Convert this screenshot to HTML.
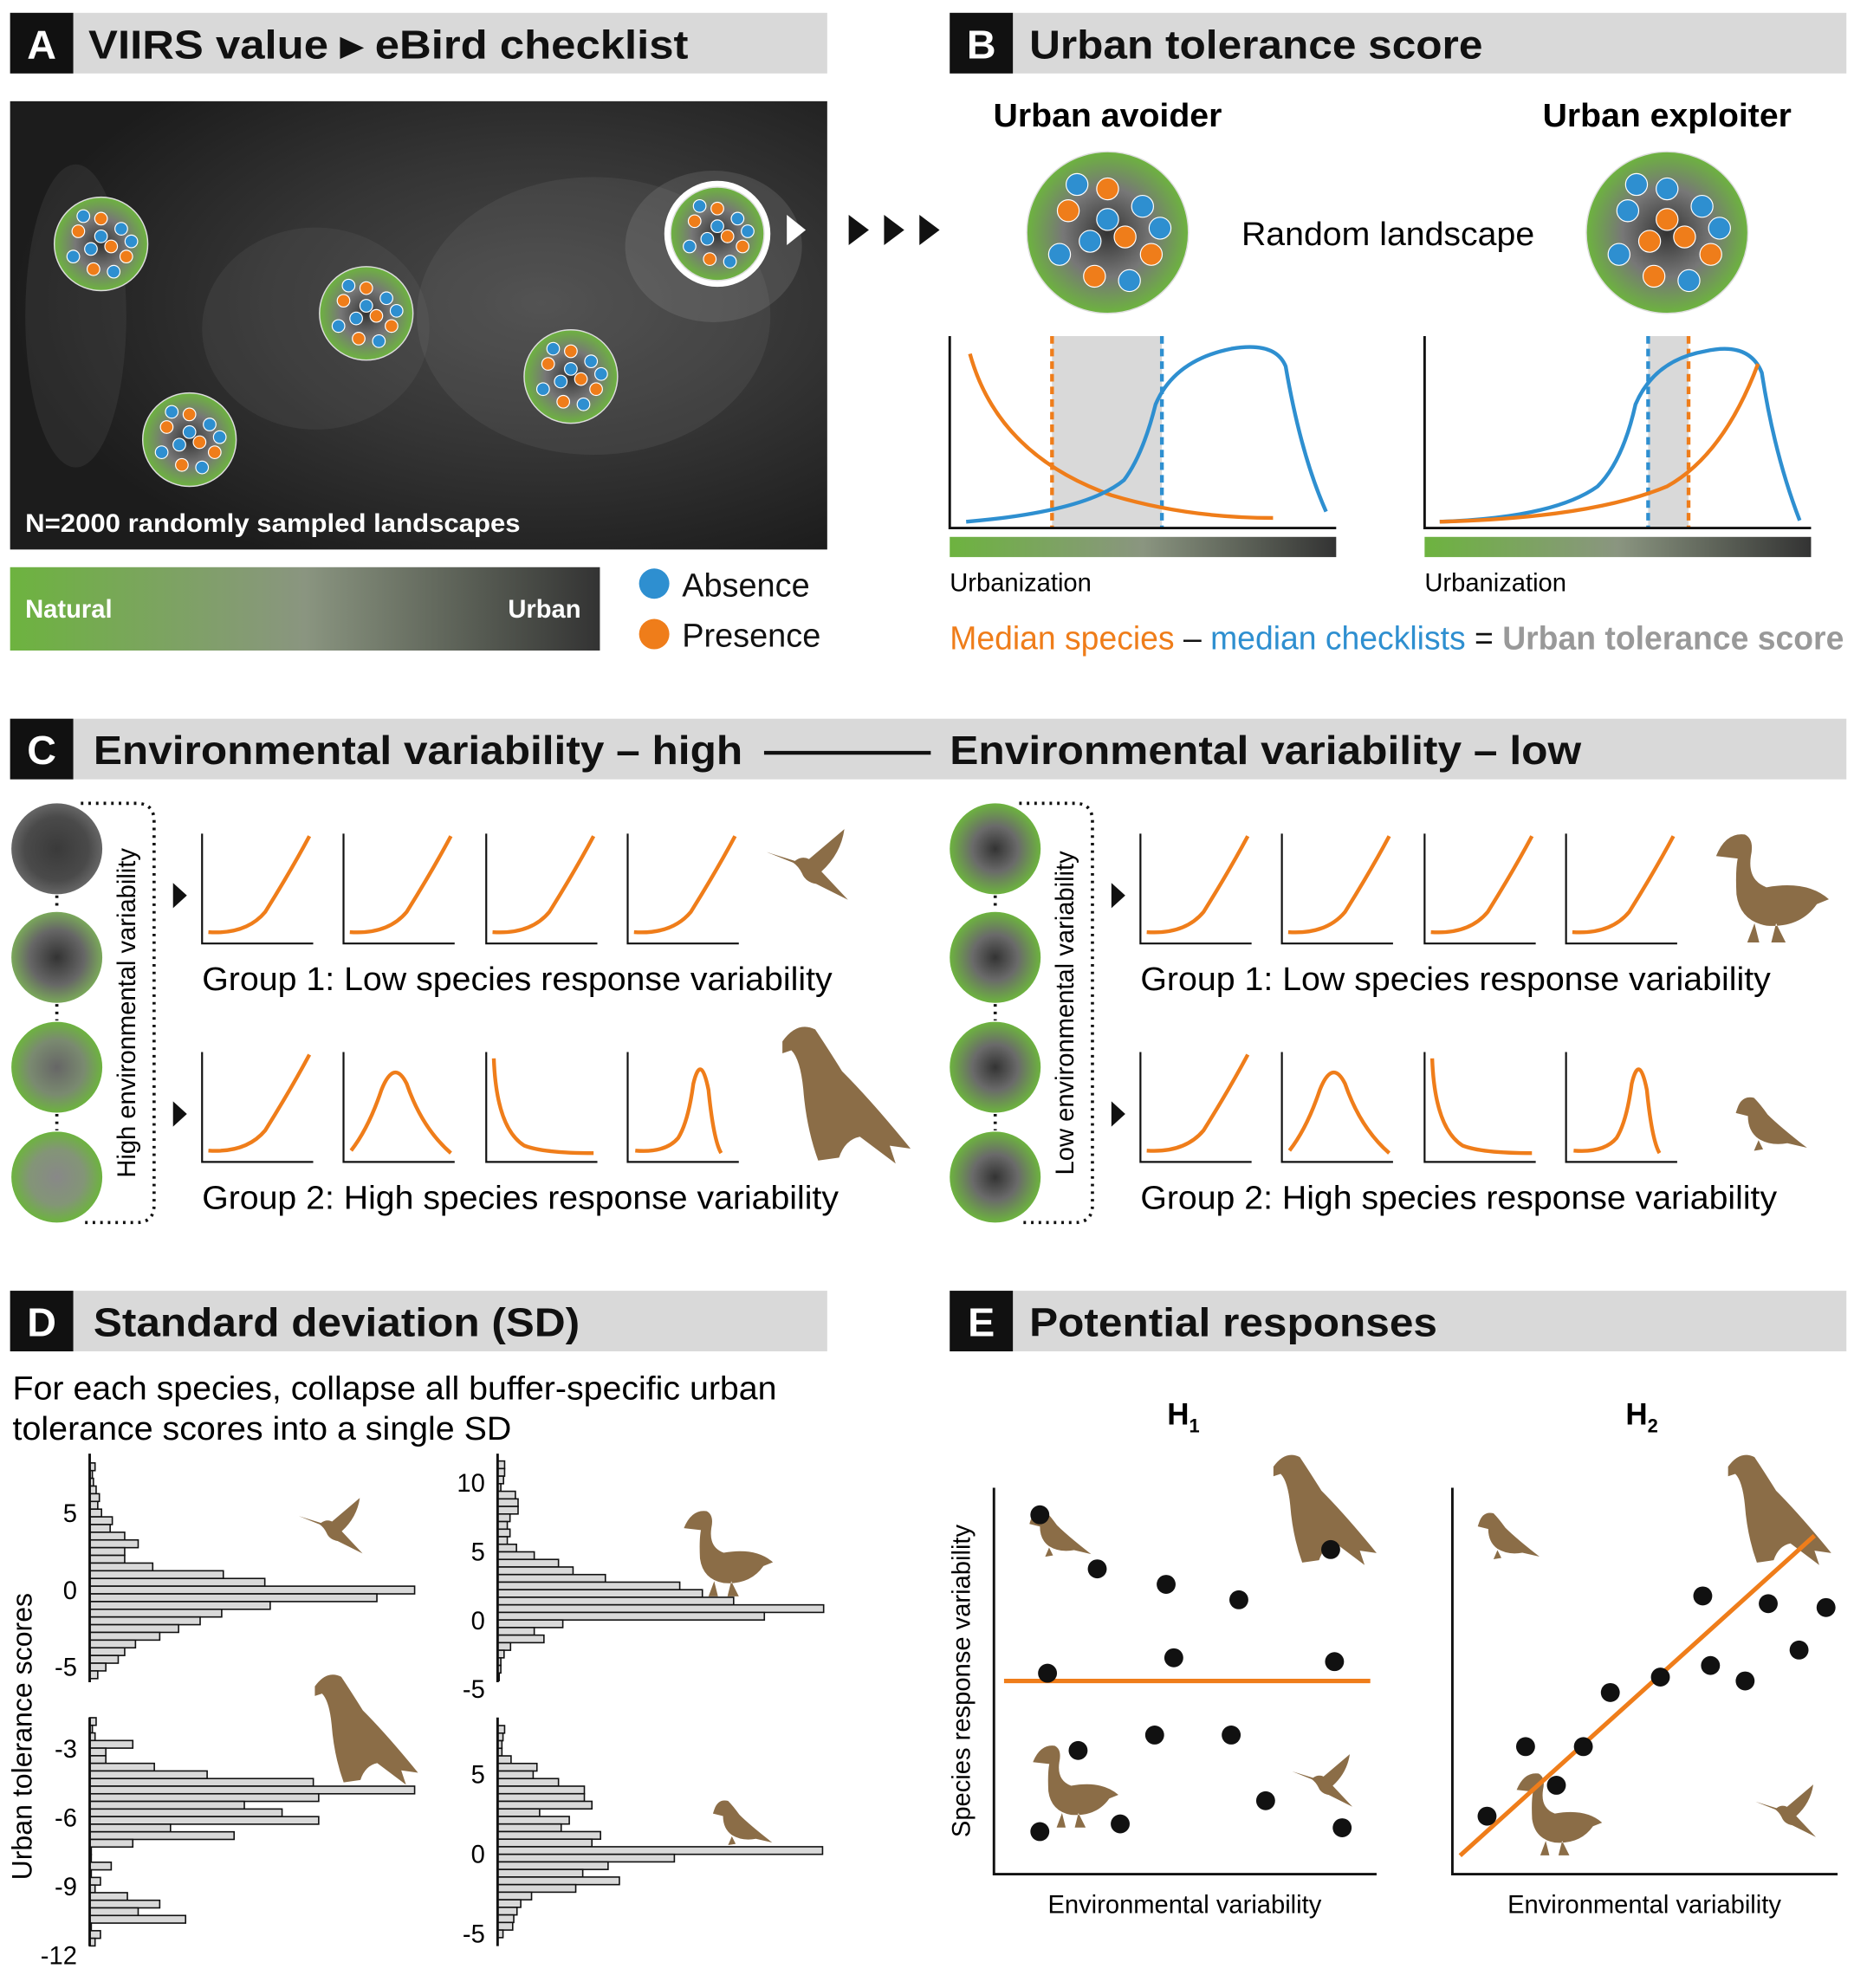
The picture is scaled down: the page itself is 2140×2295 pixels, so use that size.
<!DOCTYPE html>
<html><head><meta charset="utf-8"><style>
html,body{margin:0;padding:0;background:#fff}
svg{display:block}
text{font-family:"Liberation Sans",Arial,sans-serif}
</style></head><body>
<svg id="fig" width="2140" height="2295" viewBox="0 0 1468 1574" xmlns="http://www.w3.org/2000/svg">
<defs>
<radialGradient id="land" cx="50%" cy="50%" r="50%"><stop offset="0" stop-color="#333"/><stop offset="0.55" stop-color="#777"/><stop offset="1" stop-color="#6db33f"/></radialGradient>
<radialGradient id="land1" r="50%"><stop offset="0" stop-color="#3a3a3a"/><stop offset="0.7" stop-color="#4a4a4a"/><stop offset="1" stop-color="#666"/></radialGradient>
<radialGradient id="land2" r="50%"><stop offset="0" stop-color="#333"/><stop offset="0.6" stop-color="#666"/><stop offset="1" stop-color="#7aa85a"/></radialGradient>
<radialGradient id="land3" r="50%"><stop offset="0" stop-color="#666"/><stop offset="0.6" stop-color="#7a8a70"/><stop offset="1" stop-color="#6db33f"/></radialGradient>
<radialGradient id="land4" r="50%"><stop offset="0" stop-color="#888"/><stop offset="0.6" stop-color="#839577"/><stop offset="1" stop-color="#6db33f"/></radialGradient>
<radialGradient id="landL" r="50%"><stop offset="0" stop-color="#333"/><stop offset="0.5" stop-color="#6a6a6a"/><stop offset="1" stop-color="#6db33f"/></radialGradient>
<linearGradient id="urb" x1="0" x2="1"><stop offset="0" stop-color="#6db33f"/><stop offset="0.5" stop-color="#8a9580"/><stop offset="1" stop-color="#333"/></linearGradient>
<radialGradient id="mapglow" cx="65%" cy="45%" r="65%"><stop offset="0" stop-color="#4a4a4a"/><stop offset="0.5" stop-color="#353535"/><stop offset="1" stop-color="#1c1c1c"/></radialGradient>
<symbol id="hummer" viewBox="0 0 100 100"><path d="M0,28 L32,38 Q40,32 48,36 L88,2 Q84,30 62,50 L92,82 L56,64 Q44,62 40,52 Q36,44 30,40 Z" fill="#8b6d47"/></symbol>
<symbol id="duck" viewBox="0 0 100 100"><path d="M4,24 Q12,4 28,6 Q36,10 33,24 Q30,44 46,50 Q80,44 98,60 L88,64 Q74,84 46,82 Q24,78 21,56 Q20,36 22,26 Z M36,80 L30,96 L40,96 Z M54,80 L50,96 L62,96 Z" fill="#8b6d47"/></symbol>
<symbol id="hawk" viewBox="0 0 100 100"><path d="M14,14 Q24,0 36,6 Q44,18 54,34 Q74,54 100,86 L86,84 L90,96 L66,78 Q56,80 52,92 L38,94 Q30,72 28,46 Q26,26 20,20 L14,22 Z" fill="#8b6d47"/></symbol>
<symbol id="sparrow" viewBox="0 0 100 100"><path d="M6,26 Q12,8 28,12 Q36,20 46,34 Q62,50 98,78 L72,72 Q50,76 34,66 Q20,56 20,36 L4,32 Z M34,68 L28,82 L40,80 Z" fill="#8b6d47"/></symbol>
</defs>

<!-- Panel headers -->
<g><rect x="8" y="10" width="647" height="48" fill="#d9d9d9"/><rect x="8" y="10" width="50" height="48" fill="#111"/><text x="33" y="46" font-size="32" font-weight="bold" fill="#fff" text-anchor="middle">A</text><text x="70" y="46" font-size="32" font-weight="bold" fill="#111" textLength="475" lengthAdjust="spacingAndGlyphs">VIIRS value ▸ eBird checklist</text></g>
<g><rect x="752" y="10" width="710" height="48" fill="#d9d9d9"/><rect x="752" y="10" width="50" height="48" fill="#111"/><text x="777" y="46" font-size="32" font-weight="bold" fill="#fff" text-anchor="middle">B</text><text x="815" y="46" font-size="32" font-weight="bold" fill="#111" textLength="359" lengthAdjust="spacingAndGlyphs">Urban tolerance score</text></g>
<g><rect x="8" y="569" width="1454" height="48" fill="#d9d9d9"/><rect x="8" y="569" width="50" height="48" fill="#111"/><text x="33" y="605" font-size="32" font-weight="bold" fill="#fff" text-anchor="middle">C</text><text x="74" y="605" font-size="32" font-weight="bold" fill="#111" textLength="514" lengthAdjust="spacingAndGlyphs">Environmental variability – high</text><line x1="605" y1="596" x2="737" y2="596" stroke="#111" stroke-width="3"/><text x="752" y="605" font-size="32" font-weight="bold" fill="#111" textLength="500" lengthAdjust="spacingAndGlyphs">Environmental variability – low</text></g>
<g><rect x="8" y="1022" width="647" height="48" fill="#d9d9d9"/><rect x="8" y="1022" width="50" height="48" fill="#111"/><text x="33" y="1058" font-size="32" font-weight="bold" fill="#fff" text-anchor="middle">D</text><text x="74" y="1058" font-size="32" font-weight="bold" fill="#111" textLength="385" lengthAdjust="spacingAndGlyphs">Standard deviation (SD)</text></g>
<g><rect x="752" y="1022" width="710" height="48" fill="#d9d9d9"/><rect x="752" y="1022" width="50" height="48" fill="#111"/><text x="777" y="1058" font-size="32" font-weight="bold" fill="#fff" text-anchor="middle">E</text><text x="815" y="1058" font-size="32" font-weight="bold" fill="#111" textLength="323" lengthAdjust="spacingAndGlyphs">Potential responses</text></g>

<!-- Panel A -->
<g>
<rect x="8" y="80" width="647" height="355" fill="url(#mapglow)"/>
<ellipse cx="470" cy="250" rx="140" ry="110" fill="#888" opacity="0.15"/>
<ellipse cx="565" cy="195" rx="70" ry="60" fill="#aaa" opacity="0.18"/>
<ellipse cx="250" cy="260" rx="90" ry="80" fill="#777" opacity="0.15"/>
<ellipse cx="60" cy="250" rx="40" ry="120" fill="#666" opacity="0.2"/>
<text x="20" y="421" font-size="20" font-weight="bold" fill="#fff" textLength="392" lengthAdjust="spacingAndGlyphs">N=2000 randomly sampled landscapes</text>
</g>
<g id="mapCircles"></g>
<g><rect x="8" y="449" width="467" height="66" fill="url(#urb)"/><text x="20" y="489" font-size="20" font-weight="bold" fill="#fff">Natural</text><text x="460" y="489" font-size="20" font-weight="bold" fill="#fff" text-anchor="end">Urban</text></g>
<g><circle cx="518" cy="462" r="12" fill="#2e8fd0"/><text x="540" y="472" font-size="26" fill="#111">Absence</text></g>
<g><circle cx="518" cy="502" r="12" fill="#ef7d1a"/><text x="540" y="512" font-size="26" fill="#111">Presence</text></g>
<g><polygon points="623,170 638,182 623,194" fill="#fff"/><polygon points="672,170 688,182 672,194" fill="#111"/><polygon points="700,170 716,182 700,194" fill="#111"/><polygon points="728,170 744,182 728,194" fill="#111"/></g>

<!-- Panel B -->
<text x="877" y="100" font-size="26" font-weight="bold" text-anchor="middle" textLength="181" lengthAdjust="spacingAndGlyphs">Urban avoider</text>
<text x="1320" y="100" font-size="26" font-weight="bold" text-anchor="middle" textLength="197" lengthAdjust="spacingAndGlyphs">Urban exploiter</text>
<text x="1099" y="194" font-size="26" text-anchor="middle" textLength="232" lengthAdjust="spacingAndGlyphs">Random landscape</text>
<g id="bCircles"></g>
<g>
<rect x="833" y="266" width="87" height="152" fill="#d9d9d9"/>
<line x1="833" y1="266" x2="833" y2="418" stroke="#ef7d1a" stroke-width="3" stroke-dasharray="6,4"/>
<line x1="920" y1="266" x2="920" y2="418" stroke="#2e8fd0" stroke-width="3" stroke-dasharray="6,4"/>
<path d="M768,280 Q790,360 880,392 Q940,410 1008,410" fill="none" stroke="#ef7d1a" stroke-width="3"/>
<path d="M765,413 Q860,405 890,380 Q905,360 915,320 Q930,285 975,276 Q1010,270 1018,290 Q1030,360 1050,405" fill="none" stroke="#2e8fd0" stroke-width="3"/>
<polyline points="752,266 752,418 1058,418" fill="none" stroke="#111" stroke-width="2"/>
<rect x="752" y="425" width="306" height="16" fill="url(#urb)"/>
<text x="752" y="468" font-size="20">Urbanization</text>
</g>
<g>
<rect x="1305" y="266" width="32" height="152" fill="#d9d9d9"/>
<line x1="1305" y1="266" x2="1305" y2="418" stroke="#2e8fd0" stroke-width="3" stroke-dasharray="6,4"/>
<line x1="1337" y1="266" x2="1337" y2="418" stroke="#ef7d1a" stroke-width="3" stroke-dasharray="6,4"/>
<path d="M1140,413 Q1230,410 1265,385 Q1285,365 1295,320 Q1310,285 1350,278 Q1385,270 1395,295 Q1405,360 1425,412" fill="none" stroke="#2e8fd0" stroke-width="3"/>
<path d="M1140,413 Q1260,410 1320,385 Q1365,360 1392,288" fill="none" stroke="#ef7d1a" stroke-width="3"/>
<polyline points="1128,266 1128,418 1434,418" fill="none" stroke="#111" stroke-width="2"/>
<rect x="1128" y="425" width="306" height="16" fill="url(#urb)"/>
<text x="1128" y="468" font-size="20">Urbanization</text>
</g>
<text x="752" y="514" font-size="26" textLength="708" lengthAdjust="spacingAndGlyphs"><tspan fill="#ef7d1a">Median species</tspan><tspan fill="#111"> – </tspan><tspan fill="#2e8fd0">median checklists</tspan><tspan fill="#111"> = </tspan><tspan fill="#999" font-weight="bold">Urban tolerance score</tspan></text>

<!-- Panel C -->
<g id="panelC"></g>

<!-- Panel D -->
<text x="10" y="1108" font-size="26" textLength="605" lengthAdjust="spacingAndGlyphs">For each species, collapse all buffer-specific urban</text>
<text x="10" y="1140" font-size="26" textLength="395" lengthAdjust="spacingAndGlyphs">tolerance scores into a single SD</text>
<text transform="translate(25,1375) rotate(-90)" font-size="22" text-anchor="middle">Urban tolerance scores</text>
<g id="hists"></g>
<use href="#hummer" x="228" y="1185" width="72" height="55"/>
<use href="#duck" x="530" y="1192" width="92" height="75"/>
<use href="#hawk" x="226" y="1322" width="115" height="95"/>
<use href="#sparrow" x="555" y="1420" width="65" height="50"/>

<!-- Panel E -->
<text x="937" y="1128" font-size="24" font-weight="bold" text-anchor="middle">H<tspan font-size="15" dy="6">1</tspan></text>
<text x="1300" y="1128" font-size="24" font-weight="bold" text-anchor="middle">H<tspan font-size="15" dy="6">2</tspan></text>
<text transform="translate(768,1331) rotate(-90)" font-size="20" text-anchor="middle">Species response variability</text>
<text x="938" y="1515" font-size="20" text-anchor="middle">Environmental variability</text>
<text x="1302" y="1515" font-size="20" text-anchor="middle">Environmental variability</text>
<polyline points="787,1178 787,1484 1090,1484" fill="none" stroke="#111" stroke-width="2"/>
<polyline points="1150,1178 1150,1484 1455,1484" fill="none" stroke="#111" stroke-width="2"/>
<use href="#sparrow" x="805" y="1190" width="68" height="52"/>
<use href="#hawk" x="985" y="1148" width="115" height="95"/>
<use href="#duck" x="805" y="1378" width="92" height="72"/>
<use href="#hummer" x="1015" y="1388" width="68" height="52"/>
<use href="#sparrow" x="1160" y="1192" width="68" height="52"/>
<use href="#hawk" x="1345" y="1148" width="115" height="95"/>
<use href="#duck" x="1188" y="1400" width="92" height="72"/>
<use href="#hummer" x="1382" y="1412" width="68" height="52"/>
<g id="scatter"></g>

<script>
var NS='http://www.w3.org/2000/svg';
function mk(p,tag,attrs){var e=document.createElementNS(NS,tag);for(var k in attrs)e.setAttribute(k,attrs[k]);p.appendChild(e);return e;}

var dotOffsets=[[-18,-10,'o'],[0,-20,'o'],[16,-12,'b'],[-8,4,'b'],[8,2,'o'],[-22,10,'b'],[20,10,'o'],[-6,20,'o'],[10,22,'b'],[0,-6,'b'],[-14,-22,'b'],[24,-2,'b']];
var dotOffsetsEx=[[-18,-10,'b'],[0,-20,'b'],[16,-12,'b'],[-8,4,'o'],[8,2,'o'],[-22,10,'b'],[20,10,'o'],[-6,20,'o'],[10,22,'b'],[0,-6,'o'],[-14,-22,'b'],[24,-2,'b']];
function landscape(g,cx,cy,r,ring,offs){
  if(ring) mk(g,'circle',{cx:cx,cy:cy,r:r+5,fill:'#fff'});
  mk(g,'circle',{cx:cx,cy:cy,r:r,fill:'url(#land)',stroke:'#ddd','stroke-width':1});
  var s=r/37;
  (offs||dotOffsets).forEach(function(d){mk(g,'circle',{cx:cx+d[0]*s,cy:cy+d[1]*s,r:5*s,fill:d[2]=='o'?'#ef7d1a':'#2e8fd0',stroke:'#fff','stroke-width':0.8});});
}
var mc=document.getElementById('mapCircles');
[[80,193,0],[290,248,0],[150,348,0],[452,298,0],[568,185,1]].forEach(function(c){landscape(mc,c[0],c[1],37,c[2]);});
var bc=document.getElementById('bCircles');
landscape(bc,877,184,64,0);landscape(bc,1320,184,64,0,dotOffsetsEx);

var pc=document.getElementById('panelC');
var curveUp='M5,78 Q35,80 50,62 Q70,30 85,2';
var curves2=['M5,78 Q35,80 50,62 Q70,30 85,2','M6,78 Q20,60 30,30 Q40,5 50,25 Q62,60 85,80','M6,5 Q8,60 30,74 Q45,80 85,80','M6,78 Q30,80 40,68 Q48,55 52,25 Q58,0 64,30 Q68,70 74,80'];
function side(ox,grads,label){
  var cys=[672,758,845,932];
  cys.forEach(function(cy,i){mk(pc,'circle',{cx:45+ox,cy:cy,r:36,fill:'url(#'+grads[i]+')'});
    if(i<3) mk(pc,'line',{x1:45+ox,y1:cy+37,x2:45+ox,y2:cys[i+1]-37,stroke:'#111','stroke-width':2.5,'stroke-dasharray':'2,4'});});
  mk(pc,'path',{d:'M'+(64+ox)+',636 L'+(108+ox)+',636 Q'+(122+ox)+',636 '+(122+ox)+',650 L'+(122+ox)+',954 Q'+(122+ox)+',968 '+(108+ox)+',968 L'+(64+ox)+',968',fill:'none',stroke:'#111','stroke-width':2.5,'stroke-dasharray':'2,4'});
  var t=mk(pc,'text',{transform:'translate('+(107+ox)+',802) rotate(-90)','font-size':20,'text-anchor':'middle'});t.textContent=label;
  mk(pc,'polygon',{points:(137+ox)+',699 '+(148+ox)+',709 '+(137+ox)+',719',fill:'#111'});
  mk(pc,'polygon',{points:(137+ox)+',872 '+(148+ox)+',882 '+(137+ox)+',892',fill:'#111'});
  [160,272,385,497].forEach(function(x,i){
    [[660,curveUp],[833,curves2[i]]].forEach(function(r){
      var g=mk(pc,'g',{transform:'translate('+(x+ox)+','+r[0]+')'});
      mk(g,'path',{d:r[1],fill:'none',stroke:'#ef7d1a','stroke-width':3});
      mk(g,'polyline',{points:'0,0 0,87 88,87',fill:'none',stroke:'#111','stroke-width':1.5});
    });
  });
  var g1=mk(pc,'text',{x:160+ox,y:784,'font-size':26,textLength:499,lengthAdjust:'spacingAndGlyphs'});g1.textContent='Group 1: Low species response variability';
  var g2=mk(pc,'text',{x:160+ox,y:957,'font-size':26,textLength:504,lengthAdjust:'spacingAndGlyphs'});g2.textContent='Group 2: High species response variability';
}
side(0,['land1','land2','land3','land4'],'High environmental variability');
side(743,['landL','landL','landL','landL'],'Low environmental variability');
function useSym(p,id,x,y,w,h){var u=mk(p,'use',{x:x,y:y,width:w,height:h});u.setAttribute('href','#'+id);}
useSym(pc,'hummer',598,655,88,70);
useSym(pc,'hawk',592,808,140,118);
useSym(pc,'duck',1345,655,115,95);
useSym(pc,'sparrow',1362,862,80,60);

var h1Start=8.0, h1Step=0.5;
var h1Counts=[1,0.5,0.7,1.2,1.8,1.5,2.2,4.2,3.8,6.5,9,6.5,6.5,11.7,24.8,32.5,60.3,53.3,33.5,24.5,20.5,16.5,13,8.5,6.5,5.3,3,1.5];
var h1Ticks=[5,0,-5];
var h2Start=11.3, h2Step=0.55;
var h2Counts=[1.3,1.3,1.1,0.6,3.3,3.8,3.8,2.3,1.8,2.3,1.8,3.5,6.8,11.3,14,20,33.8,38,43.8,60.5,49.5,12.1,6.8,8.6,2.4,1.2,0.6,0.6,0.3];
var h2Ticks=[10,5,0,-5];
var h3Start=-1.82, h3Step=0.331;
var h3Counts=[1.2,0.5,1,8,3,3,12,21.8,41.5,60.3,42.5,28.7,35.7,42.5,15,26.8,8,0.3,0.3,4,0.3,2,1,7,13,9,17.8,0.3,2,1];
var h3Ticks=[-3,-6,-9,-12];
var h4Start=7.83, h4Step=0.476;
var h4Counts=[1.3,1,0.8,0.8,2.5,7.3,6.6,11.3,16.1,16.1,17.5,7.8,13.3,11.8,19.1,17.5,60.3,32.8,20.5,15.8,22.6,14.5,6.3,4.3,3.6,3,2.8,1];
var h4Ticks=[5,0,-5];

var hg=document.getElementById('hists');
function hist(name,ax,zeroY,pxPerUnit,yTop,yBot,start,step,counts,ticks,pxPerCount){
  var g=mk(hg,'g',{});
  
  
  function Y(v){return zeroY-v*pxPerUnit;}
  var bh=step*pxPerUnit;
  counts.forEach(function(c,i){
    var yc=Y(start-i*step);
    var r=mk(g,'rect',{x:ax,y:yc-bh/2,width:Math.max(c*pxPerCount,0.6),height:bh,fill:'#d9d9d9',stroke:'#111','stroke-width':1.1});
    
    
  });
  mk(g,'line',{x1:ax,y1:yTop,x2:ax,y2:yBot,stroke:'#111','stroke-width':2});
  ticks.forEach(function(t){var tx=mk(g,'text',{x:ax-10,y:Y(t)+7,'font-size':20,'text-anchor':'end'});tx.textContent=String(t);
    
    });
}
hist('histogram-hummingbird',71,1259,12.2,1151,1332,h1Start,h1Step,h1Counts,h1Ticks,4.267);
hist('histogram-duck',394,1283,10.9,1151,1332,h2Start,h2Step,h2Counts,h2Ticks,4.267);
hist('histogram-hawk',71,1330,18.2,1360,1541,h3Start,h3Step,h3Counts,h3Ticks,4.267);
hist('histogram-sparrow',394,1468,12.6,1360,1541,h4Start,h4Step,h4Counts,h4Ticks,4.267);

var h1X=[0.12,0.27,0.45,0.64,0.88,0.47,0.89,0.14,0.22,0.42,0.62,0.33,0.12,0.71,0.91];
var h1Y=[0.93,0.79,0.75,0.71,0.84,0.56,0.55,0.52,0.32,0.36,0.36,0.13,0.11,0.19,0.12];
var h1Line=0.50;
var h2X=[0.65,0.82,0.97,0.41,0.54,0.67,0.76,0.90,0.19,0.34,0.27,0.09];
var h2Y=[0.72,0.70,0.69,0.47,0.51,0.54,0.50,0.58,0.33,0.33,0.23,0.15];
var h2LineStart=0.03, h2LineSlope=0.90;
var sc=document.getElementById('scatter');
function ex(x0,w){return function(v){return x0+v*w;};}
var X1=ex(787,303), X2=ex(1150,305), Ye=function(v){return 1484-v*306;};
var l1=mk(sc,'line',{x1:795,y1:Ye(h1Line),x2:1085,y2:Ye(h1Line),stroke:'#ef7d1a','stroke-width':3.5});


var l2=mk(sc,'line',{x1:X2(0.02),y1:Ye(h2LineStart+h2LineSlope*0.02),x2:X2(0.94),y2:Ye(h2LineStart+h2LineSlope*0.94),stroke:'#ef7d1a','stroke-width':3.5});


h1X.forEach(function(x,i){var c=mk(sc,'circle',{cx:X1(x),cy:Ye(h1Y[i]),r:7.5,fill:'#111'});
  
  });
h2X.forEach(function(x,i){var c=mk(sc,'circle',{cx:X2(x),cy:Ye(h2Y[i]),r:7.5,fill:'#111'});
  
  });
</script>
</svg>
</body></html>
